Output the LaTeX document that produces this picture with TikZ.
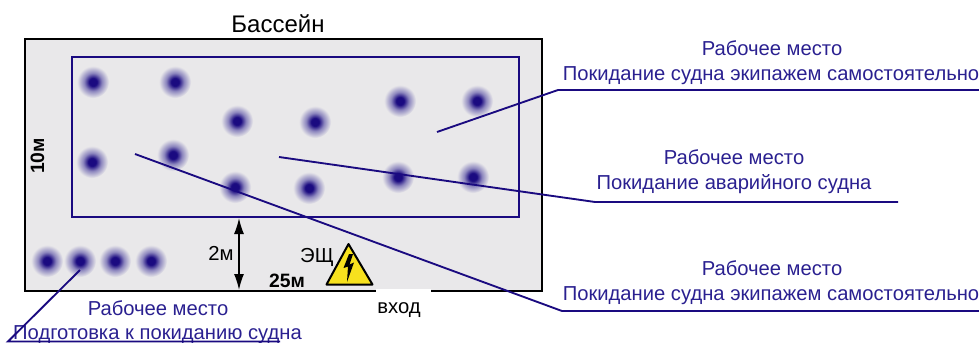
\documentclass[tikz,border=0pt]{standalone}
\usepackage{fontspec}
\setmainfont{Liberation Sans}
\usetikzlibrary{arrows.meta}
\definecolor{navy}{HTML}{1A0A80}
\definecolor{midblur}{HTML}{8C86BE}
\definecolor{txtblue}{HTML}{2A2090}
\definecolor{poolbg}{HTML}{E9E8EA}
\definecolor{warn}{HTML}{F7E11E}
\pgfdeclareradialshading{blurdot}{\pgfpoint{0bp}{0bp}}{color(0bp)=(navy); color(6bp)=(navy); color(14bp)=(midblur); color(25bp)=(poolbg); color(50bp)=(poolbg)}
\tikzset{
 blur/.style={circle,minimum size=32*0.75pt,inner sep=0pt,shading=blurdot},
 lead/.style={draw=navy,line width=1.4pt},
 lab/.style={text=txtblue,font=\fontsize{15.15pt}{18pt}\selectfont,inner sep=0pt,anchor=base},
 blk/.style={text=black,font=\fontsize{15.2pt}{18pt}\selectfont,inner sep=0pt,anchor=base},
 bold/.style={text=black,font=\bfseries\fontsize{14.5pt}{18pt}\selectfont,inner sep=0pt,anchor=base},
 dim/.style={draw=black,line width=1.2pt,{Latex[length=12pt,width=7.5pt]}-{Latex[length=12pt,width=7.5pt]}}
}
\begin{document}
\begin{tikzpicture}[x=0.75pt,y=-0.75pt]
\useasboundingbox (0,0) rectangle (979,343);
\node[rectangle,draw=black,line width=1.7pt,fill=poolbg,minimum width=517*0.75pt,minimum height=252*0.75pt,inner sep=0pt] (pool) at (283.5,165) {};
\node[rectangle,fill=white,minimum width=55*0.75pt,minimum height=5*0.75pt,inner sep=0pt] (gap) at (403,291) {};
\node[rectangle,draw=navy,line width=1.4pt,minimum width=447*0.75pt,minimum height=160*0.75pt,inner sep=0pt] (zone) at (295.5,137) {};
\foreach \n/\x/\y in {a/93/82,b/175/82,c/237/121,d/315/122,e/400/101,f/477/101,g/92/162,h/173/155,i/235/187,j/309/188,k/398/177,l/473/177,m/47/261,n/80/261,o/115/261,p/151/261}
  \node[blur] (dot\n) at (\x,\y) {};
\node[blk] (title) at (278,32) {\fontsize{18pt}{21pt}\selectfont Бассейн};
\node[bold,rotate=90] (ten) at (44,156) {10м};
\node[blk] (two) at (221,260) {2м};
\node[blk] (esch) at (317,262) {ЭЩ};
\node[bold] (tf) at (287,287) {25м};
\node[blk] (vhod) at (399,313) {вход};
\node[lab] (l1a) at (772,55) {Рабочее место};
\node[lab] (l1b) at (771,80) {Покидание судна экипажем самостоятельно};
\node[lab] (l2a) at (734,164) {Рабочее место};
\node[lab] (l2b) at (734,189) {Покидание аварийного судна};
\node[lab] (l3a) at (772,275) {Рабочее место};
\node[lab] (l3b) at (771,300) {Покидание судна экипажем самостоятельно};
\node[lab] (l4a) at (158,315) {Рабочее место};
\node[lab] (l4b) at (157.5,339) {Подготовка к покиданию судна};
\coordinate (s1) at (437,132); \coordinate (k1) at (558,90); \coordinate (e1) at (979,90);
\coordinate (s2) at (279,157); \coordinate (k2) at (595,202); \coordinate (e2) at (898,202);
\coordinate (s3) at (135,154); \coordinate (k3) at (562,311); \coordinate (e3) at (979,311);
\coordinate (s4) at (80,270); \coordinate (k4) at (8,341.5); \coordinate (e4) at (280,341.5);
\draw[lead] (s1) -- (k1) -- (e1);
\draw[lead] (s2) -- (k2) -- (e2);
\draw[lead] (s3) -- (k3) -- (e3);
\draw[lead] (s4) -- (k4) -- (e4);
\coordinate (dt) at (239,218); \coordinate (db) at (239,290);
\draw[dim] (dt) -- (db);
\coordinate (ta) at (348.5,244); \coordinate (tl) at (326.5,284.5); \coordinate (tr) at (372.5,284.5);
\draw[draw=black,line width=1.5pt,fill=warn,line join=round] (ta) -- (tl) -- (tr) -- cycle;
\fill[black] (349,254) -- (343.5,268) -- (348,266.5) -- (347,282) -- (354,262.5) -- (349.5,264.5) -- (353,254) -- cycle;
\end{tikzpicture}
\end{document}
